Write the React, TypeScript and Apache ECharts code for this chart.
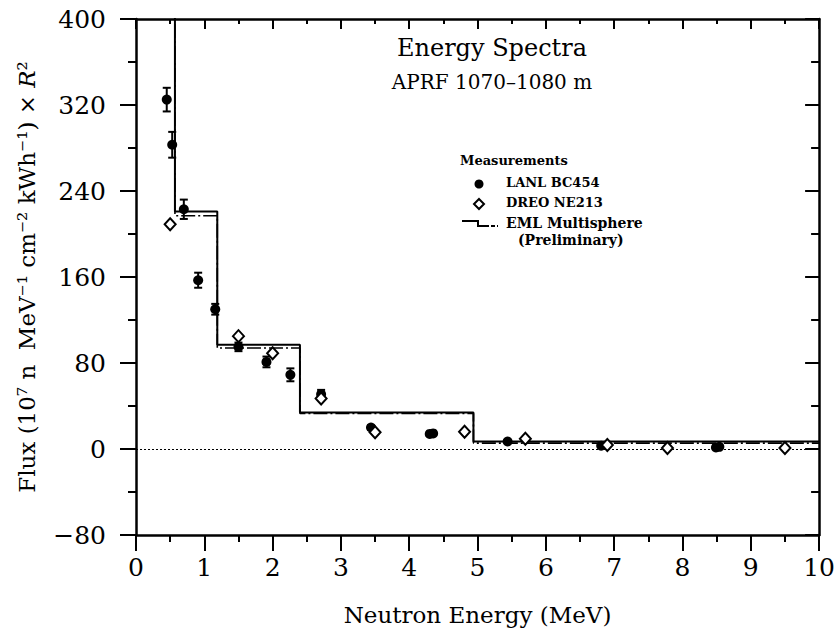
import React, { useEffect, useRef } from "react";
import * as echarts from "echarts";

const FONT = "DejaVu Serif";

// EML Multisphere step spectrum (bin edges in MeV, flux per bin)
const emlEdges = [0.57, 1.19, 2.4, 4.94, 10];
const emlTop = 600; // first bin rises above the plotted range
const emlSolid = [221, 97, 34, 7];
const emlDashed = [217, 94, 33, 5.5];

// LANL BC454 measurements
const lanlX = [0.45, 0.53, 0.7, 0.91, 1.16, 1.5, 1.91, 2.26, 2.71, 3.44, 4.3, 4.35, 5.44, 6.81, 8.49, 8.54];
const lanlY = [325, 283, 223, 157, 130, 95, 81, 69, 51, 20, 14, 14.5, 7, 3, 1.5, 2];
const lanlErr = [11, 12, 9, 7, 5, 4, 5, 6, 4, 2, 1.5, 1.5, 1, 1, 1, 1];

// DREO NE213 measurements
const dreoX = [0.5, 1.5, 2.0, 2.71, 3.5, 4.81, 5.7, 6.9, 7.78, 9.5];
const dreoY = [209, 105, 89, 47, 15.5, 16, 9.5, 3.7, 1, 1];

// Axis ticks
const xTicks = [0, 1, 2, 3, 4, 5, 6, 7, 8, 9, 10];
const yTicks = [-80, 0, 80, 160, 240, 320, 400];

function stepPoints(edges: number[], values: number[], top: number) {
  const pts: number[][] = [[edges[0], top]];
  for (let i = 0; i < values.length; i++) {
    pts.push([edges[i], values[i]], [edges[i + 1], values[i]]);
  }
  return pts;
}

export default function App() {
  const ref = useRef<HTMLDivElement>(null);
  useEffect(() => {
    const chart = echarts.init(ref.current!, null, { renderer: "svg" });
    const xMin = xTicks[0];
    const xMax = xTicks[xTicks.length - 1];
    const yMin = yTicks[0];
    const yMax = yTicks[yTicks.length - 1];
    const axisCommon = {
      type: "value" as const,
      axisLine: { show: true, onZero: false, lineStyle: { color: "#000", width: 2.5 } },
      splitLine: { show: false },
    };
    const tickStyle = { color: "#000", width: 2 };
    const option: any = {
      animation: false,
      backgroundColor: "#fff",
      textStyle: { fontFamily: FONT },
      grid: { left: 136, top: 19, width: 686, height: 516, containLabel: false },
      xAxis: [
        {
          ...axisCommon,
          position: "bottom",
          min: xMin,
          max: xMax,
          interval: 1,
          minorTick: { show: true, splitNumber: 2, length: 7, lineStyle: tickStyle },
          axisTick: { show: true, inside: false, length: 16, lineStyle: tickStyle },
          axisLabel: { color: "#000", fontSize: 25, fontFamily: FONT, margin: 20 },
          name: "Neutron Energy (MeV)",
          nameLocation: "middle",
          nameGap: 68,
          nameTextStyle: { color: "#000", fontSize: 23, fontFamily: FONT },
        },
        {
          ...axisCommon,
          position: "top",
          min: xMin,
          max: xMax,
          interval: 1,
          minorTick: { show: true, splitNumber: 2, length: 5, lineStyle: tickStyle },
          axisTick: { show: true, inside: true, length: 10, lineStyle: tickStyle },
          axisLabel: { show: false },
        },
      ],
      yAxis: [
        {
          ...axisCommon,
          position: "left",
          min: yMin,
          max: yMax,
          interval: 80,
          minorTick: { show: true, splitNumber: 2, length: 8, lineStyle: tickStyle },
          axisTick: { show: true, inside: false, length: 16, lineStyle: tickStyle },
          axisLabel: {
            color: "#000",
            fontSize: 25,
            fontFamily: FONT,
            margin: 30,
            formatter: (v: number) => (v < 0 ? "\u2212" + Math.abs(v) : String(v)),
          },
          name: "{n|Flux (10\u2077 n  MeV\u207B\u00B9 cm\u207B\u00B2 kWh\u207B\u00B9) \u00D7 }{i|R}{n|\u00B2}",
          nameLocation: "middle",
          nameRotate: 90,
          nameGap: 98,
          nameTextStyle: {
            color: "#000",
            fontSize: 23,
            fontFamily: FONT,
            rich: {
              n: { color: "#000", fontSize: 23, fontFamily: FONT },
              i: { color: "#000", fontSize: 23, fontFamily: FONT, fontStyle: "italic" },
            },
          },
        },
        {
          ...axisCommon,
          position: "right",
          min: yMin,
          max: yMax,
          interval: 80,
          minorTick: { show: true, splitNumber: 2, length: 8, lineStyle: tickStyle },
          axisTick: { show: true, inside: true, length: 14, lineStyle: tickStyle },
          axisLabel: { show: false },
        },
      ],
      series: [
        {
          name: "EML Multisphere",
          type: "line",
          data: stepPoints(emlEdges, emlSolid, emlTop),
          showSymbol: false,
          symbol: "none",
          clip: true,
          lineStyle: { color: "#000", width: 2 },
          markLine: {
            silent: true,
            symbol: "none",
            label: { show: false },
            lineStyle: { color: "#000", width: 1.2, type: [2, 2] },
            data: [{ yAxis: 0 }],
          },
          z: 3,
        },
        {
          name: "EML Multisphere B",
          type: "line",
          data: stepPoints(emlEdges, emlDashed, emlTop),
          showSymbol: false,
          symbol: "none",
          clip: true,
          lineStyle: { color: "#000", width: 1.6, type: [14, 3, 2, 3] },
          z: 3,
        },
        {
          name: "LANL error",
          type: "custom",
          data: lanlX.map((x, i) => [x, lanlY[i], lanlErr[i]]),
          renderItem: (params: any, api: any) => {
            const x = api.value(0);
            const y = api.value(1);
            const e = api.value(2);
            const hi = api.coord([x, y + e]);
            const lo = api.coord([x, y - e]);
            const c = 4;
            const st = { stroke: "#000", lineWidth: 2 };
            return {
              type: "group",
              children: [
                { type: "line", shape: { x1: hi[0], y1: hi[1], x2: lo[0], y2: lo[1] }, style: st },
                { type: "line", shape: { x1: hi[0] - c, y1: hi[1], x2: hi[0] + c, y2: hi[1] }, style: st },
                { type: "line", shape: { x1: lo[0] - c, y1: lo[1], x2: lo[0] + c, y2: lo[1] }, style: st },
              ],
            };
          },
          z: 4,
        },
        {
          name: "LANL BC454",
          type: "scatter",
          data: lanlX.map((x, i) => [x, lanlY[i]]),
          symbol: "circle",
          symbolSize: 10,
          itemStyle: { color: "#000", opacity: 1 },
          z: 5,
        },
        {
          name: "DREO NE213",
          type: "scatter",
          data: dreoX.map((x, i) => [x, dreoY[i]]),
          symbol: "diamond",
          symbolSize: [11, 12],
          itemStyle: { color: "#fff", borderColor: "#000", borderWidth: 2, opacity: 1 },
          z: 6,
        },
      ],
      graphic: [
        {
          type: "text",
          x: 492,
          y: 48,
          style: {
            text: "Energy Spectra",
            font: `24px "${FONT}"`,
            fill: "#000",
            textAlign: "center",
            textVerticalAlign: "middle",
          },
        },
        {
          type: "text",
          x: 492,
          y: 82,
          style: {
            text: "APRF 1070\u20131080 m",
            font: `20px "${FONT}"`,
            fill: "#000",
            textAlign: "center",
            textVerticalAlign: "middle",
          },
        },
        {
          type: "text",
          left: 460,
          top: 154,
          style: { text: "Measurements", font: `bold 13px "${FONT}"`, fill: "#000" },
        },
        { type: "circle", shape: { cx: 479, cy: 184, r: 4.5 }, style: { fill: "#000" } },
        {
          type: "text",
          left: 506,
          top: 176,
          style: { text: "LANL BC454", font: `bold 13px "${FONT}"`, fill: "#000" },
        },
        {
          type: "polygon",
          shape: { points: [[479, 199], [484, 204], [479, 209], [474, 204]] },
          style: { fill: "#fff", stroke: "#000", lineWidth: 2 },
        },
        {
          type: "text",
          left: 506,
          top: 196,
          style: { text: "DREO NE213", font: `bold 13px "${FONT}"`, fill: "#000" },
        },
        {
          type: "polyline",
          shape: { points: [[462, 221], [478, 221], [478, 226], [485, 226]] },
          style: { stroke: "#000", lineWidth: 2, fill: "none" },
        },
        {
          type: "line",
          shape: { x1: 485, y1: 226, x2: 498, y2: 226 },
          style: { stroke: "#000", lineWidth: 2, lineDash: [4, 2] },
        },
        {
          type: "text",
          left: 506,
          top: 216,
          style: { text: "EML Multisphere", font: `bold 14px "${FONT}"`, fill: "#000" },
        },
        {
          type: "text",
          left: 518,
          top: 233,
          style: { text: "(Preliminary)", font: `bold 14px "${FONT}"`, fill: "#000" },
        },
      ],
    };
    chart.setOption(option);
    return () => chart.dispose();
  }, []);
  return (
    <div
      ref={ref}
      style={{ position: "fixed", left: 0, top: 0, width: 838, height: 638, background: "#fff" }}
    />
  );
}
